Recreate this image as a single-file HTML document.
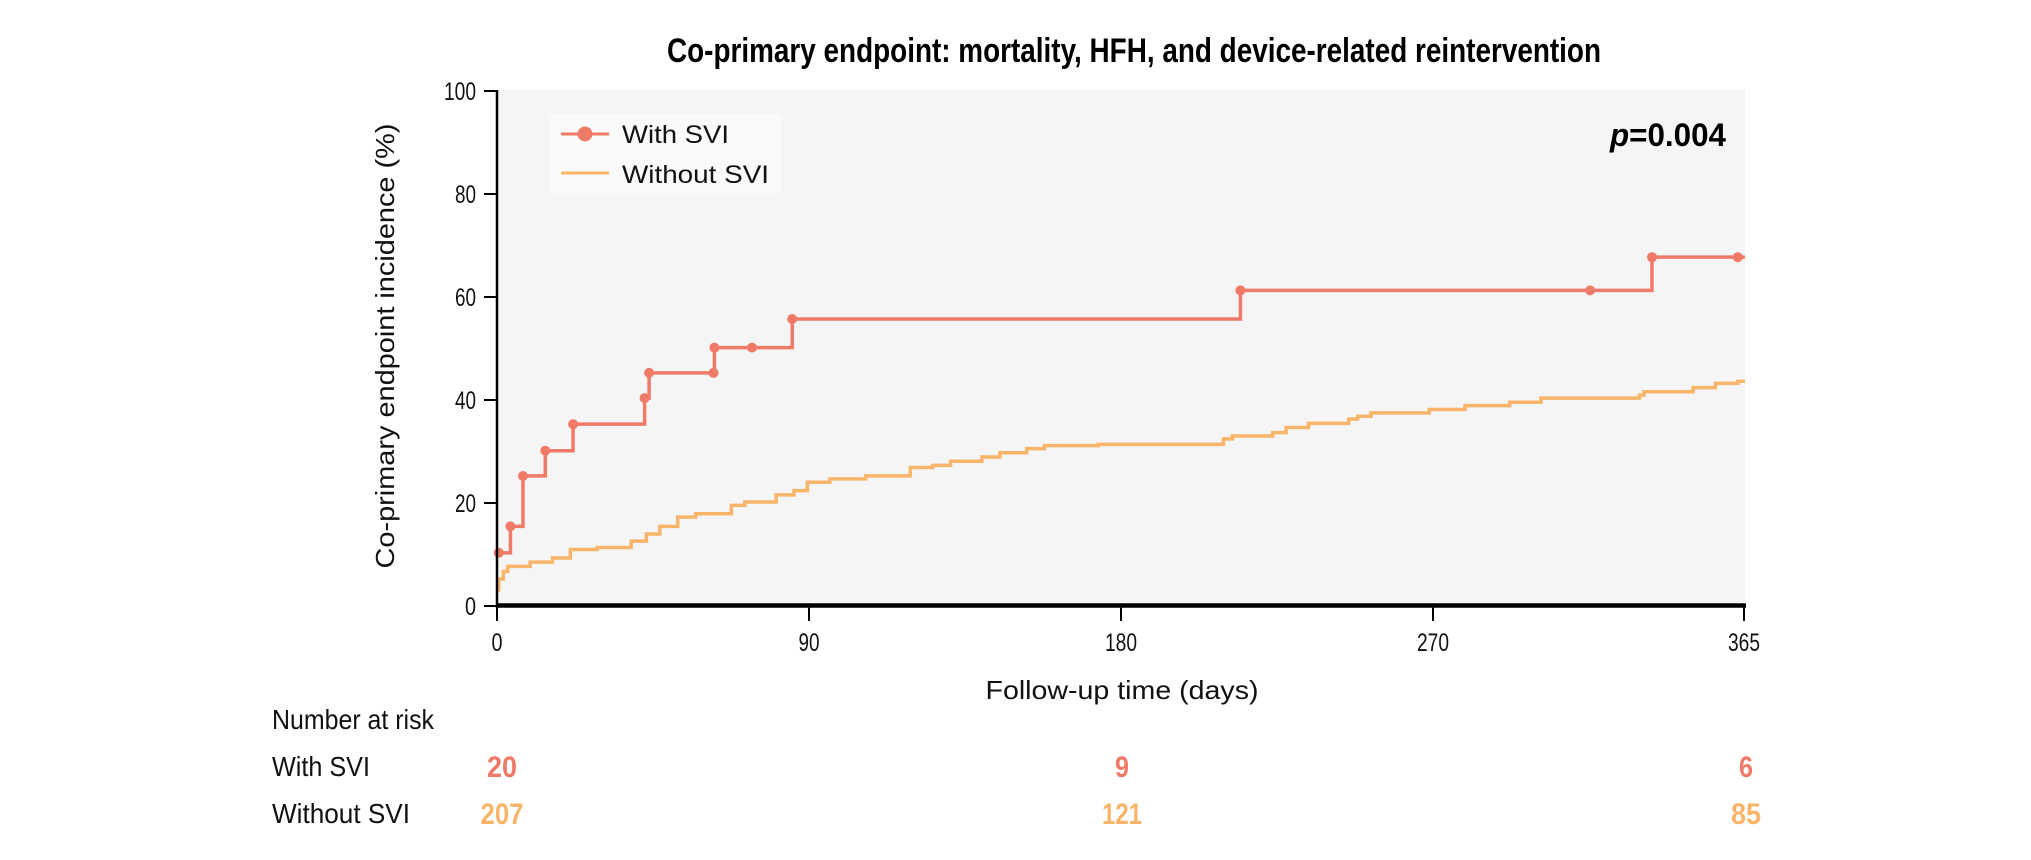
<!DOCTYPE html>
<html><head><meta charset="utf-8"><style>
html,body{margin:0;padding:0;background:#fff;}
svg{display:block;}
text{font-family:"Liberation Sans Narrow","Liberation Sans",sans-serif;}
</style></head><body>
<svg width="2031" height="860" viewBox="0 0 2031 860" xmlns="http://www.w3.org/2000/svg">
<rect x="497" y="90" width="1248" height="516" fill="#f5f5f5"/>
<text x="1134" y="62" font-size="34" font-weight="bold" text-anchor="middle" textLength="934" lengthAdjust="spacingAndGlyphs" fill="#000">Co-primary endpoint: mortality, HFH, and device-related reintervention</text>
<!-- legend -->
<rect x="549" y="114" width="232" height="79" fill="#fafafa"/>
<line x1="561" y1="134" x2="609" y2="134" stroke="#ef7a67" stroke-width="3"/>
<circle cx="585" cy="134" r="7.5" fill="#ef7a67"/>
<line x1="561" y1="173" x2="609" y2="173" stroke="#f8b56a" stroke-width="3"/>
<text x="622" y="143" font-size="25" textLength="107" lengthAdjust="spacingAndGlyphs" fill="#111">With SVI</text>
<text x="622" y="183" font-size="25" textLength="147" lengthAdjust="spacingAndGlyphs" fill="#111">Without SVI</text>
<text x="1726" y="146" font-size="32" font-weight="bold" text-anchor="end" textLength="116" lengthAdjust="spacingAndGlyphs" fill="#000"><tspan font-style="italic">p</tspan>=0.004</text>
<!-- series -->
<g transform="matrix(0.8946,0,0,0.4207,400.4,0.54)" fill="none" stroke-linejoin="miter">
<path vector-effect="non-scaling-stroke" stroke="#f8b56a" stroke-width="3.5" d="M110,1405 V1375 H115 V1357 H120 V1345 H145 V1335 H170 V1325 H190 V1305 H220 V1300 H258 V1285 H275 V1268 H290 V1250 H310 V1228 H330 V1220 H370 V1200 H385 V1192 H420 V1175 H440 V1165 H455 V1145 H480 V1137 H520 V1130 H570 V1110 H595 V1105 H615 V1095 H650 V1085 H670 V1075 H700 V1065 H720 V1058 H780 V1055 H920 V1042 H930 V1035 H975 V1027 H990 V1015 H1015 V1005 H1060 V995 H1070 V988 H1085 V980 H1150 V972 H1190 V963 H1240 V955 H1275 V945 H1385 V938 H1390 V930 H1445 V920 H1470 V910 H1495 V905 H1503"/>
<path vector-effect="non-scaling-stroke" stroke="#ef7a67" stroke-width="3.5" d="M110,1313 H123 V1250 H137 V1130 H162 V1070 H193 V1007 H273 V945 H278 V885 H351 V825 H438 V757 H939 V689 H1399 V610 H1503"/>
</g>
<g fill="#ef7a67">
<circle cx="498.8" cy="552.8" r="5"/><circle cx="510.4" cy="526.4" r="5"/><circle cx="523" cy="476" r="5"/>
<circle cx="545.3" cy="450.7" r="5"/><circle cx="573.1" cy="424.2" r="5"/><circle cx="644.6" cy="398.1" r="5"/>
<circle cx="649.1" cy="372.9" r="5"/><circle cx="713.5" cy="372.9" r="5"/><circle cx="714.4" cy="347.6" r="5"/>
<circle cx="752" cy="347.6" r="5"/><circle cx="792.2" cy="319" r="5"/><circle cx="1240.4" cy="290.4" r="5"/>
<circle cx="1590.2" cy="290.4" r="5"/><circle cx="1652" cy="257.2" r="5"/><circle cx="1737.8" cy="257.2" r="5"/>
</g>
<!-- axes -->
<line x1="497" y1="90" x2="497" y2="608" stroke="#000" stroke-width="2.5"/>
<line x1="496" y1="605.5" x2="1746" y2="605.5" stroke="#000" stroke-width="4.5"/>
<g stroke="#000" stroke-width="2">
<line x1="484" y1="91" x2="497" y2="91"/><line x1="484" y1="194" x2="497" y2="194"/><line x1="484" y1="297" x2="497" y2="297"/>
<line x1="484" y1="400" x2="497" y2="400"/><line x1="484" y1="503" x2="497" y2="503"/><line x1="484" y1="606" x2="497" y2="606"/>
<line x1="497" y1="606" x2="497" y2="621"/><line x1="809" y1="606" x2="809" y2="621"/><line x1="1121" y1="606" x2="1121" y2="621"/>
<line x1="1433" y1="606" x2="1433" y2="621"/><line x1="1744" y1="606" x2="1744" y2="621"/>
</g>
<g font-size="25" fill="#111" text-anchor="end" lengthAdjust="spacingAndGlyphs">
<text x="476" y="100" textLength="32" lengthAdjust="spacingAndGlyphs">100</text>
<text x="476" y="203" textLength="21" lengthAdjust="spacingAndGlyphs">80</text>
<text x="476" y="306" textLength="21" lengthAdjust="spacingAndGlyphs">60</text>
<text x="476" y="409" textLength="21" lengthAdjust="spacingAndGlyphs">40</text>
<text x="476" y="512" textLength="21" lengthAdjust="spacingAndGlyphs">20</text>
<text x="476" y="615" textLength="11" lengthAdjust="spacingAndGlyphs">0</text>
</g>
<g font-size="25" fill="#111" text-anchor="middle">
<text x="497" y="651" textLength="11" lengthAdjust="spacingAndGlyphs">0</text>
<text x="809" y="651" textLength="21" lengthAdjust="spacingAndGlyphs">90</text>
<text x="1121" y="651" textLength="32" lengthAdjust="spacingAndGlyphs">180</text>
<text x="1433" y="651" textLength="32" lengthAdjust="spacingAndGlyphs">270</text>
<text x="1744" y="651" textLength="32" lengthAdjust="spacingAndGlyphs">365</text>
</g>
<text transform="translate(394,346) rotate(-90)" font-size="26" text-anchor="middle" textLength="445" lengthAdjust="spacingAndGlyphs" fill="#111">Co-primary endpoint incidence (%)</text>
<text x="1122" y="699" font-size="26" text-anchor="middle" textLength="273" lengthAdjust="spacingAndGlyphs" fill="#111">Follow-up time (days)</text>
<text x="272" y="729" font-size="28" textLength="162" lengthAdjust="spacingAndGlyphs" fill="#111">Number at risk</text>
<text x="272" y="776" font-size="28" textLength="98" lengthAdjust="spacingAndGlyphs" fill="#111">With SVI</text>
<text x="272" y="823" font-size="28" textLength="138" lengthAdjust="spacingAndGlyphs" fill="#111">Without SVI</text>
<g font-size="30" font-weight="bold" text-anchor="middle">
<text x="502" y="777" fill="#ef7a67" textLength="30" lengthAdjust="spacingAndGlyphs">20</text>
<text x="1122" y="777" fill="#ef7a67" textLength="14" lengthAdjust="spacingAndGlyphs">9</text>
<text x="1746" y="777" fill="#ef7a67" textLength="14" lengthAdjust="spacingAndGlyphs">6</text>
<text x="502" y="824" fill="#f8b56a" textLength="43" lengthAdjust="spacingAndGlyphs">207</text>
<text x="1122" y="824" fill="#f8b56a" textLength="40" lengthAdjust="spacingAndGlyphs">121</text>
<text x="1746" y="824" fill="#f8b56a" textLength="30" lengthAdjust="spacingAndGlyphs">85</text>
</g>
</svg>
</body></html>
